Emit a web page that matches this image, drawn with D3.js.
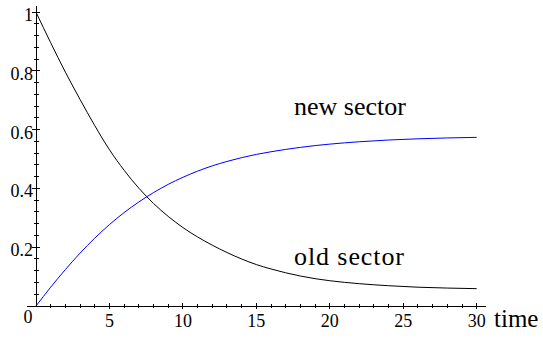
<!DOCTYPE html>
<html>
<head>
<meta charset="utf-8">
<script src="https://cdn.jsdelivr.net/npm/d3@7"></script>
<style>
  html, body { margin: 0; padding: 0; background: #fff; }
  svg { display: block; }
</style>
</head>
<body>
<svg id="chart" width="543" height="345"></svg>
<script>
// Share of output in each sector over time
const times = [0, 1, 2, 3, 4, 5, 6, 7, 8, 9, 10, 11, 12, 13, 14, 15, 16, 17, 18, 19, 20, 22, 24, 26, 28, 30];
const oldSector = [1.0, 0.896, 0.796, 0.703, 0.614, 0.532, 0.462, 0.401, 0.349, 0.305, 0.267, 0.235, 0.207, 0.182, 0.160, 0.141, 0.126, 0.113, 0.102, 0.093, 0.086, 0.076, 0.069, 0.064, 0.061, 0.059];
const newSector = [0.0, 0.064, 0.124, 0.180, 0.231, 0.277, 0.318, 0.354, 0.386, 0.414, 0.438, 0.459, 0.477, 0.492, 0.505, 0.516, 0.525, 0.533, 0.540, 0.546, 0.551, 0.559, 0.565, 0.569, 0.572, 0.574];

const xTickValues = [5, 10, 15, 20, 25, 30];
const xTickLabels = ["5", "10", "15", "20", "25", "30"];
const yTickValues = [0.2, 0.4, 0.6, 0.8, 1];
const yTickLabels = ["0.2", "0.4", "0.6", "0.8", "1"];
const originLabel = "0";
const xAxisTitle = "time";
const seriesLabels = ["new sector", "old sector"];

const serif = '"Liberation Serif", "Tinos", "FreeSerif"';

const svg = d3.select("#chart");

const x = d3.scaleLinear().domain([0, 30]).range([36, 476.7]);
const y = d3.scaleLinear().domain([0, 1]).range([306, 12.2]);

// minor ticks: every 1 along time, every 0.04 along the share axis
const xMinor = d3.range(1, 31).filter(v => v % 5 !== 0);
const yMinor = d3.range(1, 26).map(i => +(i * 0.04).toFixed(2)).filter(v => Math.abs(v * 5 - Math.round(v * 5)) > 1e-6);

const axes = svg.append("g").attr("stroke", "#000").attr("stroke-width", 1).attr("shape-rendering", "crispEdges");

// x axis line
axes.append("line")
  .attr("x1", x(0) - 9).attr("x2", x(30) + 9)
  .attr("y1", y(0)).attr("y2", y(0));
// y axis line
axes.append("line")
  .attr("x1", x(0)).attr("x2", x(0))
  .attr("y1", y(0)).attr("y2", y(1) - 6);

axes.selectAll(".xmaj").data(xTickValues).enter().append("line")
  .attr("x1", d => x(d)).attr("x2", d => x(d))
  .attr("y1", y(0) - 3).attr("y2", y(0) + 3);
axes.selectAll(".xmin").data(xMinor).enter().append("line")
  .attr("x1", d => x(d)).attr("x2", d => x(d))
  .attr("y1", y(0) - 2).attr("y2", y(0) + 2);

axes.selectAll(".ymaj").data(yTickValues).enter().append("line")
  .attr("x1", x(0) - 4).attr("x2", x(0) + 4)
  .attr("y1", d => y(d)).attr("y2", d => y(d));
axes.selectAll(".ymin").data(yMinor).enter().append("line")
  .attr("x1", x(0) - 2.5).attr("x2", x(0) + 2.5)
  .attr("y1", d => y(d)).attr("y2", d => y(d));

const label = (sel) => sel.style("font-family", serif).attr("fill", "#000");

// tick labels
svg.selectAll(".xlab").data(xTickValues).enter().append("text")
  .call(label)
  .attr("x", d => x(d)).attr("y", y(0) + 21)
  .attr("text-anchor", "middle").attr("font-size", 18)
  .text((d, i) => xTickLabels[i]);

svg.selectAll(".ylab").data(yTickValues).enter().append("text")
  .call(label)
  .attr("x", x(0) - 3).attr("y", d => y(d) + 9)
  .attr("text-anchor", "end").attr("font-size", 18)
  .text((d, i) => yTickLabels[i]);

svg.append("text").call(label)
  .attr("x", x(0) - 8).attr("y", y(0) + 17)
  .attr("text-anchor", "middle").attr("font-size", 18)
  .text(originLabel);

svg.append("text").call(label)
  .attr("x", 494).attr("y", 327)
  .attr("font-size", 25)
  .text(xAxisTitle);

// curves
const line = series => d3.line()
  .x((d, i) => x(times[i]))
  .y(d => y(d))
  .curve(d3.curveMonotoneX)(series);

svg.append("path")
  .attr("d", line(oldSector))
  .attr("fill", "none").attr("stroke", "#000").attr("stroke-width", 1);

svg.append("path")
  .attr("d", line(newSector))
  .attr("fill", "none").attr("stroke", "#0000ff").attr("stroke-width", 1);

// series labels
svg.append("text").call(label).attr("x", 294).attr("y", 115).attr("font-size", 26).text(seriesLabels[0]);
svg.append("text").call(label).attr("x", 294).attr("y", 265).attr("font-size", 26)
  .attr("textLength", 110).attr("lengthAdjust", "spacing").text(seriesLabels[1]);
</script>
</body>
</html>
